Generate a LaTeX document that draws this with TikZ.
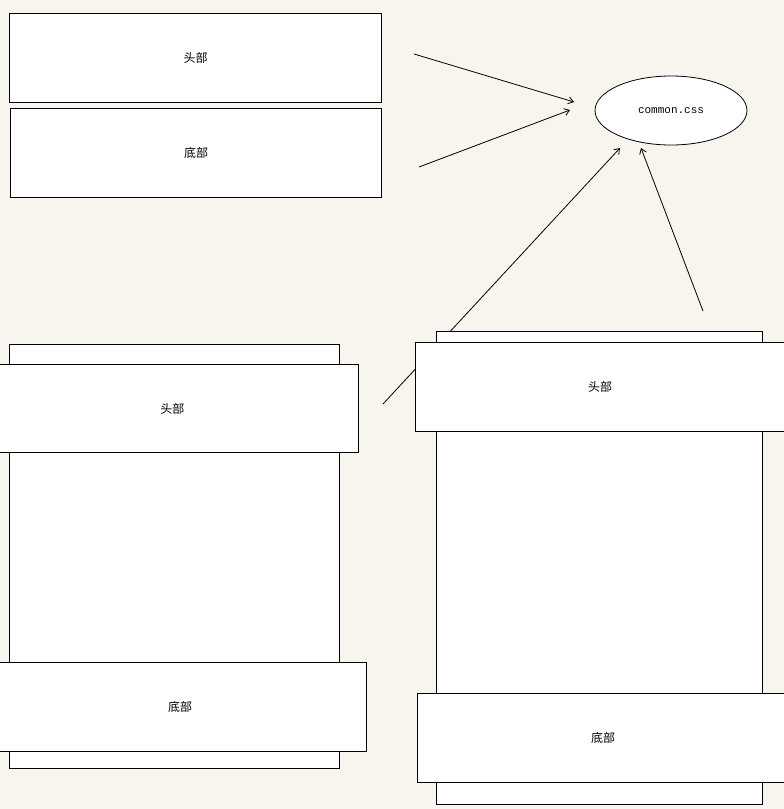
\documentclass[tikz,border=0pt]{standalone}
\usepackage{fontspec}
\setmonofont{Liberation Mono}
\newfontfamily\cjk{Noto Sans CJK SC}
\usetikzlibrary{shapes.geometric,arrows.meta}
\definecolor{bgc}{RGB}{248,245,238}
\tikzset{
  box/.style={draw=black, line width=1pt, fill=white, rectangle, inner sep=0pt, font=\cjk\fontsize{12}{12}\selectfont},
  pagebox/.style={draw=black, line width=1pt, fill=white, rectangle, inner sep=0pt},
  conn/.style={draw=black, line width=0.8pt, -{Straight Barb[length=5pt,width=7pt]}}
}
\begin{document}
\begin{tikzpicture}[x=1pt,y=-1pt]
\useasboundingbox (0,0) rectangle (784,809);
\clip (0,0) rectangle (784,809);
\fill[bgc] (0,0) rectangle (784,809);
% free ends and arrow tips
\coordinate (s1) at (414,54);
\coordinate (e1) at (574,102);
\coordinate (s2) at (419,167);
\coordinate (e2) at (570,110);
\coordinate (s3) at (383,404);
\coordinate (e3) at (620,148);
\coordinate (s4) at (703,311);
\coordinate (e4) at (641,148);
\draw[conn] (s1) -- (e1);
\draw[conn] (s2) -- (e2);
\draw[conn] (s3) -- (e3);
\draw[conn] (s4) -- (e4);
% top boxes
\node[box, minimum width=372pt, minimum height=88.5pt] (th) at (195.5,57.75) {头部};
\node[box, minimum width=371pt, minimum height=88.5pt] (tf) at (196,152.75) {底部};
% css ellipse
\node[draw=black, line width=0.8pt, fill=white, ellipse, minimum width=152pt, minimum height=69pt, inner sep=0pt, font=\ttfamily\fontsize{11}{11}\selectfont] (css) at (671,110.5) {common.css};
% left page
\node[pagebox, minimum width=330pt, minimum height=424pt] (lpage) at (174.5,556.5) {};
\node[box, minimum width=372.5pt, minimum height=88pt] (lh) at (172.25,408.5) {头部};
\node[box, minimum width=372pt, minimum height=89pt] (lf) at (180,706.5) {底部};
% right page
\node[pagebox, minimum width=326pt, minimum height=473pt] (rpage) at (599,567.5) {};
\node[box, minimum width=370pt, minimum height=89pt] (rh) at (600,386.5) {头部};
\node[box, minimum width=372pt, minimum height=89pt] (rf) at (603,737.5) {底部};
\end{tikzpicture}
\end{document}
